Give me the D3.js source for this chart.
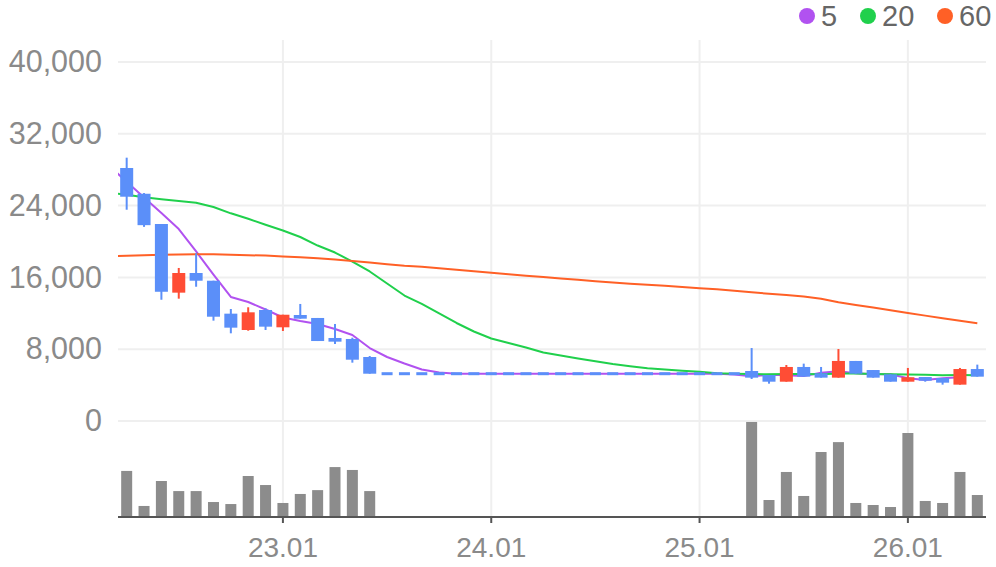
<!DOCTYPE html>
<html>
<head>
<meta charset="utf-8">
<script src="https://cdn.jsdelivr.net/npm/d3@7"></script>
<style>
  body { margin: 0; background: #fff; }
  svg { display: block; font-family: "Liberation Sans", Arial, sans-serif; }
</style>
</head>
<body>
<svg></svg>
<script>
const width = 996;
const height = 567;

// monthly candles; the first month only carries the moving averages (clipped lead-in)
const months = [
  '2022-03','2022-04','2022-05','2022-06','2022-07','2022-08','2022-09','2022-10','2022-11','2022-12',
  '2023-01','2023-02','2023-03','2023-04','2023-05','2023-06','2023-07','2023-08','2023-09','2023-10',
  '2023-11','2023-12','2024-01','2024-02','2024-03','2024-04','2024-05','2024-06','2024-07','2024-08',
  '2024-09','2024-10','2024-11','2024-12','2025-01','2025-02','2025-03','2025-04','2025-05','2025-06',
  '2025-07','2025-08','2025-09','2025-10','2025-11','2025-12','2026-01','2026-02','2026-03','2026-04',
  '2026-05'
]

const open = [null,
  28190, 25320, 21950, 14300, 16490, 15630, 11960, 10140, 12370, 10440,
  11810, 11480, 9250, 9140, 7130, 5270, 5270, 5270, 5270, 5270,
  5270, 5270, 5270, 5270, 5270, 5270, 5270, 5270, 5270, 5270,
  5270, 5270, 5270, 5270, 5270, 5270, 5570, 5125, 4380, 6020,
  5310, 4830, 6690, 5680, 5200, 4380, 4900, 4790, 4050, 5790]
const high = [null,
  29340, 25400, 21950, 17050, 18690, 15630, 12480, 12670, 12560, 11840,
  13040, 11480, 10810, 9280, 7240, 5270, 5270, 5270, 5270, 5270,
  5270, 5270, 5270, 5270, 5270, 5270, 5270, 5270, 5270, 5270,
  5270, 5270, 5270, 5270, 5270, 5270, 8130, 5125, 6240, 6390,
  6020, 8020, 6690, 5680, 5200, 5910, 4900, 4790, 5910, 6280]
const low = [null,
  23540, 21630, 13510, 13630, 14960, 11180, 9770, 10060, 10140, 10030,
  11400, 8910, 8580, 6500, 5270, 5270, 5270, 5270, 5270, 5270,
  5270, 5270, 5270, 5270, 5270, 5270, 5270, 5270, 5270, 5270,
  5270, 5270, 5270, 5270, 5270, 5270, 4680, 4160, 4380, 4940,
  4830, 4830, 5270, 4830, 4380, 4380, 4380, 4050, 4050, 4940]
const close = [null,
  24990, 21820, 14400, 16490, 15630, 11620, 10400, 12110, 10510, 11840,
  11400, 8910, 8840, 6830, 5270, 5270, 5270, 5270, 5270, 5270,
  5270, 5270, 5270, 5270, 5270, 5270, 5270, 5270, 5270, 5270,
  5270, 5270, 5270, 5270, 5270, 5270, 4830, 4380, 6020, 4940,
  4830, 6690, 5270, 4830, 4380, 4870, 4490, 4270, 5790, 4940]
const volume = [null,
  48, 11.5, 37.5, 27, 27, 15.6, 13.5, 42.7, 33.3, 14.6,
  24, 28, 52, 49, 27, 0, 0, 0, 0, 0,
  0, 0, 0, 0, 0, 0, 0, 0, 0, 0,
  0, 0, 0, 0, 0, 0, 99, 17.7, 46.9, 21.9,
  67.7, 78, 14.6, 12.5, 10.4, 87.5, 16.7, 14.6, 46.9, 22.9]

const ma5 = [
  28400, 26650, 24900, 23180, 21390, 18890, 16300, 13820, 13260, 12420,
  11530, 11140, 10810, 10250, 9580, 8130, 7130, 6410, 5740, 5400,
  5270, 5270, 5270, 5270, 5270, 5270, 5270, 5270, 5270, 5270,
  5270, 5270, 5270, 5270, 5270, 5270, 5180, 4980, 5150, 5090,
  5000, 5370, 5550, 5310, 5200, 5210, 4770, 4570, 4760, 4870]
const ma20 = [
  25450, 25210, 24920, 24700, 24510, 24320, 23840, 23140, 22530, 21860,
  21230, 20500, 19550, 18770, 17770, 16660, 15320, 13980, 13040, 11980,
  10920, 9970, 9190, 8690, 8190, 7630, 7300, 6960, 6660, 6350,
  6090, 5870, 5730, 5590, 5480, 5330, 5270, 5250, 5200, 5240,
  5230, 5210, 5280, 5280, 5250, 5200, 5180, 5140, 5090, 5120, 5110]
const ma60 = [
  18370, 18410, 18470, 18530, 18560, 18580, 18580, 18520, 18470, 18430,
  18340, 18240, 18130, 17990, 17830, 17660, 17470, 17300, 17180, 17010,
  16850, 16690, 16520, 16360, 16190, 16040, 15890, 15730, 15580, 15420,
  15290, 15180, 15060, 14930, 14800, 14670, 14510, 14340, 14180, 14030,
  13860, 13630, 13230, 12920, 12640, 12330, 12030, 11740, 11450, 11160, 10890]

const priceTicks = [0, 8000, 16000, 24000, 32000, 40000]
const monthTicks = ['2023-01', '2024-01', '2025-01', '2026-01']

const maSeries = [
  { name: '5', values: ma5, color: '#b152f0' },
  { name: '20', values: ma20, color: '#20d04c' },
  { name: '60', values: ma60, color: '#ff6026' }
]

const upColor = '#ff4d35'
const downColor = '#5b8ff9'

// layout
const left = 118, right = 986
const priceTop = 62, priceBottom = 421
const volBottom = 517
const step = (right - left) / (months.length - 1)

const svg = d3.select('svg').attr('width', width).attr('height', height)

const xScale = d3.scaleBand()
  .domain(months)
  .range([left - step, right])
  .paddingInner(0.25)
  .paddingOuter(0.125)

const cx = m => xScale(m) + xScale.bandwidth() / 2

const yScale = d3.scaleLinear().domain([0, 40000]).range([priceBottom, priceTop])
const volScale = d3.scaleLinear().domain([0, 100]).range([volBottom, priceBottom])

svg.append('clipPath').attr('id', 'plot-clip')
  .append('rect')
  .attr('x', left).attr('y', 0)
  .attr('width', right - left).attr('height', volBottom)

// grid
const grid = svg.append('g')
grid.selectAll('line.h')
  .data(priceTicks)
  .enter()
  .append('line')
  .attr('x1', left).attr('x2', right)
  .attr('y1', d => yScale(d)).attr('y2', d => yScale(d))
  .attr('stroke', '#efefef')
  .attr('stroke-width', 2)
grid.selectAll('line.v')
  .data(monthTicks)
  .enter()
  .append('line')
  .attr('x1', d => cx(d)).attr('x2', d => cx(d))
  .attr('y1', 40).attr('y2', volBottom)
  .attr('stroke', '#efefef')
  .attr('stroke-width', 2)

// y axis labels
const yAxis = d3.axisLeft(yScale)
  .tickValues(priceTicks)
  .tickFormat(d3.format(','))
  .tickSize(0)
  .tickPadding(16)
svg.append('g')
  .attr('transform', 'translate(' + left + ',0)')
  .call(yAxis)
  .call(g => g.select('.domain').remove())
  .selectAll('text')
  .attr('fill', '#8a8a8a')
  .attr('font-size', 30.5)
  .attr('font-family', '"Liberation Sans", Arial, sans-serif')

// volume bars
const idx = d3.range(1, months.length)
svg.append('g')
  .selectAll('rect')
  .data(idx.filter(i => volume[i] > 0))
  .enter()
  .append('rect')
  .attr('x', i => cx(months[i]) - 5.5)
  .attr('width', 11)
  .attr('y', i => volScale(volume[i]))
  .attr('height', i => volBottom - volScale(volume[i]))
  .attr('fill', '#8c8c8c')

// x axis
const xAxis = d3.axisBottom(xScale)
  .tickValues(monthTicks)
  .tickFormat(d => d.slice(2, 4) + '.' + d.slice(5, 7))
  .tickSize(6)
  .tickSizeOuter(0)
  .tickPadding(14)
const xg = svg.append('g')
  .attr('transform', 'translate(0,' + volBottom + ')')
  .call(xAxis)
xg.select('.domain').attr('d', 'M' + left + ',0H' + right).attr('stroke', '#555').attr('stroke-width', 2)
xg.selectAll('.tick line').attr('stroke', '#555').attr('stroke-width', 2)
xg.selectAll('text')
  .attr('fill', '#8a8a8a')
  .attr('font-size', 28)
  .attr('font-family', '"Liberation Sans", Arial, sans-serif')

// moving averages
const plot = svg.append('g').attr('clip-path', 'url(#plot-clip)')
const line = d3.line()
  .x((d, i) => cx(months[i]))
  .y(d => yScale(d))
maSeries.forEach(s => {
  plot.append('path')
    .datum(s.values)
    .attr('d', line)
    .attr('fill', 'none')
    .attr('stroke', s.color)
    .attr('stroke-width', 2)
    .attr('stroke-linejoin', 'round')
})

// candles
const candles = plot.append('g')
  .selectAll('g')
  .data(idx)
  .enter()
  .append('g')
const colorOf = i => close[i] > open[i] ? upColor : downColor
candles.append('rect')
  .attr('x', i => cx(months[i]) - 1)
  .attr('width', 2)
  .attr('y', i => yScale(high[i]))
  .attr('height', i => yScale(low[i]) - yScale(high[i]))
  .attr('fill', colorOf)
candles.append('rect')
  .attr('x', i => cx(months[i]) - (open[i] === close[i] ? 5.5 : xScale.bandwidth() / 2))
  .attr('width', i => open[i] === close[i] ? 11 : xScale.bandwidth())
  .attr('y', i => open[i] === close[i] ? yScale(close[i]) - 1.5 : yScale(Math.max(open[i], close[i])))
  .attr('height', i => Math.max(3, Math.abs(yScale(open[i]) - yScale(close[i]))))
  .attr('fill', colorOf)

// legend
const legendX = [807, 868, 945]
const legend = svg.append('g')
maSeries.forEach((s, k) => {
  legend.append('circle')
    .attr('cx', legendX[k]).attr('cy', 16).attr('r', 8)
    .attr('fill', s.color)
  legend.append('text')
    .attr('x', legendX[k] + 14).attr('y', 16)
    .attr('dy', '0.35em')
    .attr('font-size', 29)
    .attr('fill', '#666')
    .text(s.name)
})
</script>
</body>
</html>
